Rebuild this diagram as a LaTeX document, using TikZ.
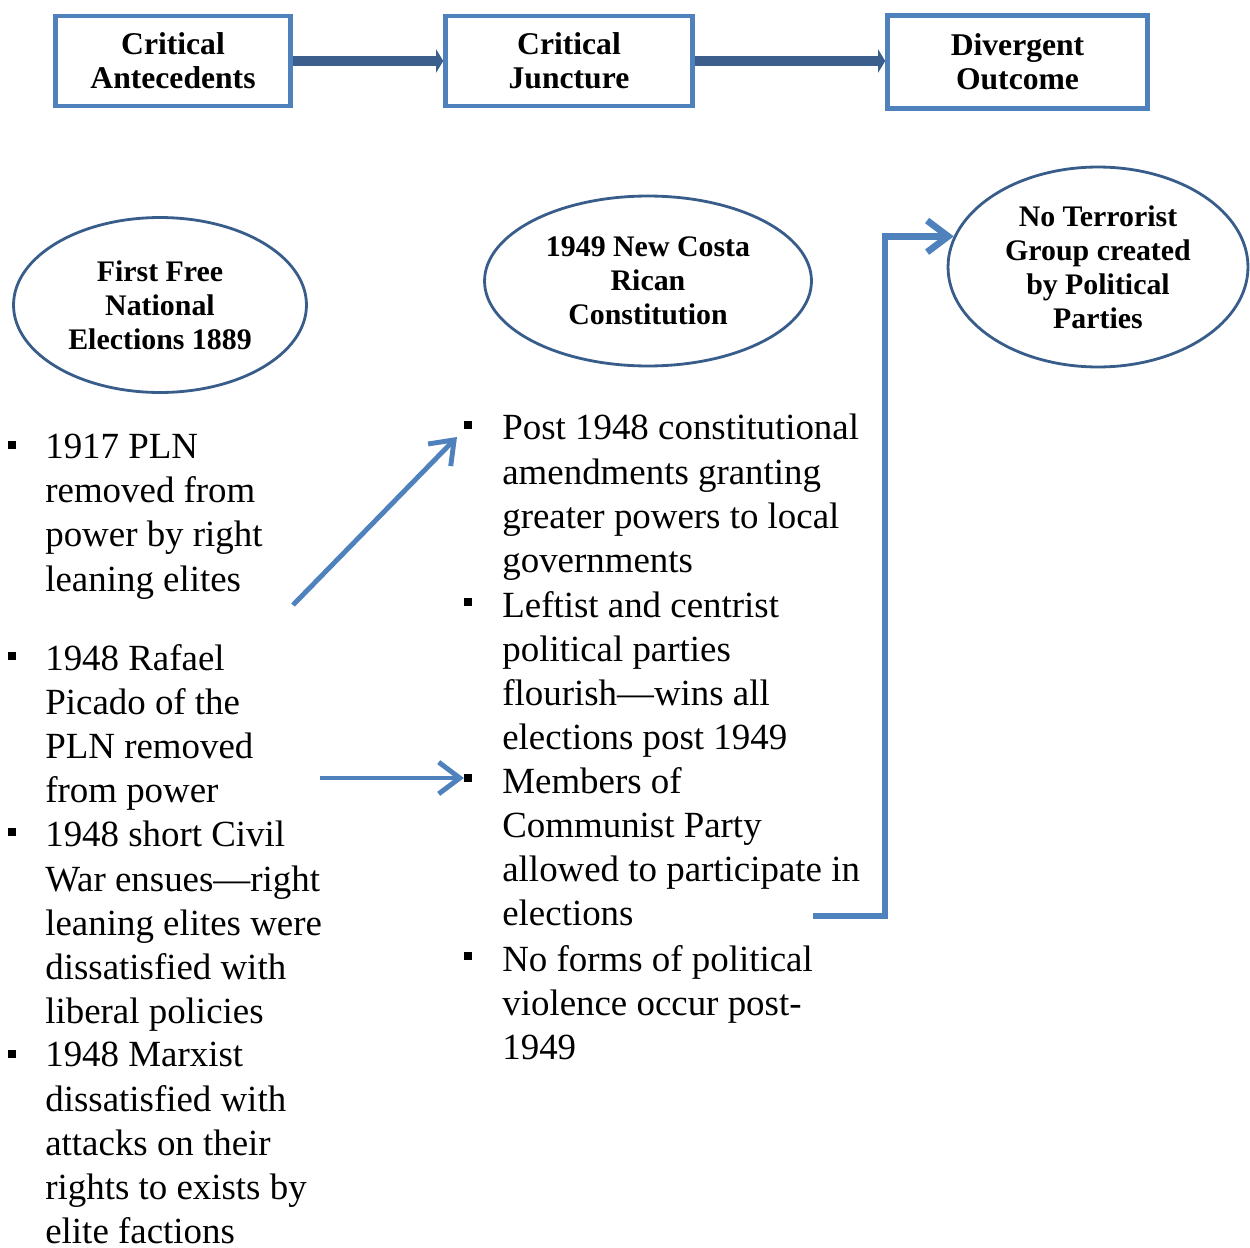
\documentclass[tikz,border=0pt]{standalone}
\usepackage{fontspec}
\setmainfont{Liberation Serif}
\usetikzlibrary{shapes.geometric,arrows.meta}

\definecolor{boxblue}{RGB}{79,129,189}
\definecolor{darkblue}{RGB}{59,94,140}
\definecolor{rimblue}{RGB}{56,93,138}

\tikzset{
  titlebox/.style={draw=boxblue, line width=2.6pt, align=center, inner sep=0pt,
    minimum height=1.8cm, font=\fontsize{18}{19.3}\selectfont\bfseries},
  event/.style={ellipse, draw=rimblue, line width=1.6pt, align=center, inner sep=0pt,
    font=\fontsize{17}{19.3}\selectfont\bfseries},
  pointlist/.style={anchor=north west, align=left, inner sep=0pt,
    font=\fontsize{21}{25.1}\selectfont},
  bulletbox/.style={fill=black, minimum size=0.15cm, inner sep=0pt},
  flowarrow/.style={darkblue, line width=5.5pt, -{Triangle[length=4pt,width=13pt]}},
  linkarrow/.style={boxblue, line width=2.8pt, -{Straight Barb[length=12pt,width=18pt]}}
}

\begin{document}
\begin{tikzpicture}[x=0.02cm,y=-0.02cm]
\useasboundingbox (0,0) rectangle (1250,1247);

% Draw the three framework boxes
\node[titlebox, minimum width=4.7cm] (ante) at (173,61) {Critical\\Antecedents};
\node[titlebox, minimum width=4.94cm] (junc) at (569,61) {Critical\\Juncture};
\node[titlebox, minimum width=5.2cm, minimum height=1.86cm] (outc) at (1017.5,62) {Divergent\\Outcome};

% Draw arrows between boxes
\draw[flowarrow] (ante.east) -- (junc.west);
\draw[flowarrow] (junc.east) -- (junc.east -| outc.west);

% Draw ellipses for the events
\node[event, minimum width=5.86cm, minimum height=3.5cm] (elec) at (160,305) {First Free\\National\\Elections 1889};
\node[event, minimum width=6.54cm, minimum height=3.4cm] (const) at (648,281) {1949 New Costa\\Rican\\Constitution};
\node[event, minimum width=6cm, minimum height=4cm] (nterr) at (1098,267) {No Terrorist\\Group created\\by Political\\Parties};

% Left column of points
\node[bulletbox] (lb1) at (12,445) {};
\node[pointlist] (l1) at (45,434) {1917 PLN\\removed from\\power by right\\leaning elites};
\node[bulletbox] (lb2) at (12,656) {};
\node[pointlist] (l2) at (45,644) {1948 Rafael\\Picado of the\\PLN removed\\from power};
\node[bulletbox] (lb3) at (12,832) {};
\node[pointlist] (l3) at (45,821) {1948 short Civil\\War ensues—right\\leaning elites were\\dissatisfied with\\liberal policies};
\node[bulletbox] (lb4) at (12,1054) {};
\node[pointlist] (l4) at (45,1042) {1948 Marxist\\dissatisfied with\\attacks on their\\rights to exists by\\elite factions};

% Middle column of points
\node[bulletbox] (mb1) at (468,425) {};
\node[pointlist] (m1) at (502,414) {Post 1948 constitutional\\amendments granting\\greater powers to local\\governments};
\node[bulletbox] (mb2) at (468,602) {};
\node[pointlist] (m2) at (502,591) {Leftist and centrist\\political parties\\flourish—wins all\\elections post 1949};
\node[bulletbox] (mb3) at (468,778) {};
\node[pointlist] (m3) at (502,767) {Members of\\Communist Party\\allowed to participate in\\elections};
\node[bulletbox] (mb4) at (468,956) {};
\node[pointlist] (m4) at (502,945) {No forms of political\\violence occur post-\\1949};

% Draw linking arrows
\coordinate (d0) at (293,605);
\coordinate (d1) at (457,437);
\draw[linkarrow] (d0) -- (d1);
\coordinate (h0) at (320,778);
\draw[linkarrow] (h0) -- (mb3.west);
\coordinate (e0) at (813,916);
\draw[linkarrow, line width=3.8pt] (e0) -- ++(72,0) |- (nterr.168);
\end{tikzpicture}
\end{document}
